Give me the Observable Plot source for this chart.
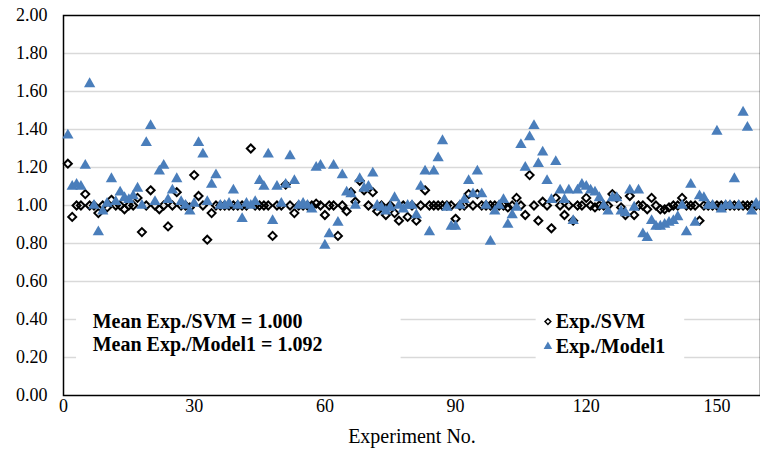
<!DOCTYPE html>
<html>
<head>
<meta charset="utf-8">
<script src="https://cdn.jsdelivr.net/npm/d3@7"></script>
<script src="https://cdn.jsdelivr.net/npm/@observablehq/plot@0.6"></script>
<style>
  html, body { margin: 0; padding: 0; background: #fff; }
  #chart svg { display: block; }
  .tick-lbl text { font-family: 'Liberation Serif', 'Times New Roman', serif !important; font-size: 18px !important; }
  .axis-title text { font-family: 'Liberation Serif', 'Times New Roman', serif !important; font-size: 20px !important; }
</style>
</head>
<body>
<div id="chart"></div>
<script>
// Experiment numbers 1..160
const experiments = Array.from({length: 160}, (_, i) => i + 1);

// Exp./SVM values (open diamonds)
const svm = [
  1.22, 0.94, 1.00, 1.00, 1.06, 1.00, 1.00, 0.96, 1.00, 0.99,
  1.03, 1.00, 1.00, 0.98, 1.00, 1.00, 1.04, 0.86, 1.00, 1.08,
  1.00, 0.98, 1.00, 0.89, 1.00, 1.07, 1.00, 1.00, 0.99, 1.16,
  1.05, 1.00, 0.82, 0.96, 1.00, 1.00, 1.00, 1.00, 1.00, 1.00,
  1.00, 1.00, 1.30, 1.00, 1.00, 1.00, 1.00, 0.84, 1.00, 1.00,
  1.11, 1.00, 0.96, 1.00, 1.00, 1.00, 1.00, 1.01, 1.00, 0.95,
  1.00, 1.00, 0.84, 1.00, 0.97, 1.07, 1.02, 1.13, 1.08, 1.00,
  1.07, 0.97, 1.00, 0.95, 1.00, 0.96, 0.92, 1.00, 0.94, 1.00,
  0.92, 1.00, 1.08, 1.00, 1.00, 1.00, 1.00, 1.00, 1.00, 0.93,
  1.00, 1.00, 1.06, 1.00, 1.06, 1.00, 1.00, 1.00, 1.00, 1.00,
  1.00, 0.99, 1.00, 1.04, 1.00, 0.95, 1.16, 1.00, 0.92, 1.02,
  1.00, 0.88, 1.04, 1.00, 0.95, 1.00, 0.92, 1.00, 1.00, 1.04,
  1.00, 0.99, 1.00, 1.00, 1.00, 1.06, 1.04, 0.99, 0.95, 1.05,
  0.95, 1.00, 1.00, 0.98, 1.04, 1.00, 0.98, 0.98, 0.99, 1.00,
  1.00, 1.04, 1.00, 1.00, 1.00, 0.92, 1.00, 1.00, 1.00, 1.00,
  1.00, 1.00, 1.00, 1.00, 1.00, 1.00, 1.00, 1.00, 1.00, 1.00
];

// Exp./Model1 values (blue triangles)
const model1 = [
  1.37, 1.10, 1.11, 1.10, 1.21, 1.64, 1.00, 0.86, 0.97, 1.01,
  1.14, 1.02, 1.07, 1.04, 1.03, 1.05, 1.09, 1.00, 1.33, 1.42,
  1.02, 1.18, 1.21, 1.03, 1.08, 1.14, 1.02, 1.00, 0.97, 1.01,
  1.33, 1.27, 1.02, 1.11, 1.16, 1.00, 1.00, 1.01, 1.08, 1.00,
  0.93, 1.01, 1.00, 1.02, 1.13, 1.10, 1.27, 0.92, 1.10, 1.01,
  1.11, 1.26, 1.13, 1.00, 1.01, 1.00, 0.98, 1.20, 1.21, 0.79,
  0.85, 1.21, 0.91, 1.16, 1.07, 1.06, 1.00, 1.14, 1.09, 1.10,
  1.17, 1.00, 0.99, 0.97, 0.99, 1.04, 1.00, 0.98, 1.00, 1.00,
  0.95, 1.10, 1.18, 0.86, 1.18, 1.25, 1.34, 0.99, 0.89, 0.89,
  1.00, 1.03, 1.13, 1.06, 1.18, 1.06, 1.00, 0.81, 0.97, 1.00,
  1.03, 0.90, 0.95, 0.99, 1.32, 1.20, 1.36, 1.42, 1.22, 1.28,
  1.13, 1.03, 1.23, 1.08, 1.03, 1.08, 0.92, 1.08, 1.11, 1.10,
  1.08, 1.07, 1.04, 1.00, 0.97, 1.04, 1.04, 0.97, 0.96, 1.08,
  0.99, 1.08, 0.85, 0.83, 0.92, 0.89, 0.89, 0.90, 0.91, 0.92,
  0.94, 1.00, 0.86, 1.11, 0.91, 1.05, 1.04, 1.00, 1.00, 1.39,
  0.98, 1.00, 1.00, 1.14, 1.00, 1.49, 1.41, 0.97, 1.01, 1.00
];

const xTicks = [0, 30, 60, 90, 120, 150];
const yTicks = [0, 0.2, 0.4, 0.6, 0.8, 1.0, 1.2, 1.4, 1.6, 1.8, 2.0];
const gridTicks = [0.2, 0.4, 0.6, 0.8, 1.0, 1.2, 1.4, 1.6, 1.8];

const xLabel = "Experiment No.";
const seriesNames = ["Exp./SVM", "Exp./Model1"];
const meanLabels = ["Mean Exp./SVM = 1.000", "Mean Exp./Model1 = 1.092"];

// annotation / legend placement (data units)
const noteX = 6.7, noteY = [0.389, 0.268];
const noteBox = {x1: 3, x2: 77.5, y1: 0.12, y2: 0.47};
const legendBox = {x1: 108.5, x2: 142.6, y1: 0.12, y2: 0.47};
const legendSymX = 111.2, legendTextX = 113.0, legendY = [0.389, 0.258];

const dataSVM = experiments.map((e, i) => ({e, v: svm[i]}));
const dataM1 = experiments.map((e, i) => ({e, v: model1[i]}));

const blue = "#4a7ebb";
const font = "Liberation Serif";
const fmt = d3.format(".2f");

const chart = Plot.plot({
  width: 760,
  height: 459,
  marginLeft: 63,
  marginTop: 15,
  marginBottom: 64,
  marginRight: 0,
  x: {domain: [0, 160], axis: null},
  y: {domain: [0, 2], axis: null},
  marks: [
    Plot.ruleY(gridTicks, {stroke: "#d9d9d9", strokeWidth: 1.6}),
    Plot.rect([noteBox, legendBox], {x1: "x1", x2: "x2", y1: "y1", y2: "y2", fill: "white"}),
    Plot.frame({stroke: "black", strokeWidth: 1.5}),
    Plot.text(yTicks, {y: d => d, frameAnchor: "left", dx: -16, textAnchor: "end", text: d => fmt(d), fontSize: 18, fontFamily: font, fill: "black", className: "tick-lbl"}),
    Plot.text(xTicks, {x: d => d, frameAnchor: "bottom", dy: 16, text: d => String(d), fontSize: 18, fontFamily: font, fill: "black", className: "tick-lbl"}),
    Plot.text([xLabel], {frameAnchor: "bottom", dy: 47, text: d => d, fontSize: 20, fontFamily: font, fill: "black", className: "axis-title"}),
    Plot.dot(dataSVM, {x: "e", y: "v", symbol: "diamond2", r: 3.6, stroke: "black", strokeWidth: 2, fill: "none"}),
    Plot.dot(dataM1, {x: "e", y: "v", symbol: "triangle", r: 4.2, fill: blue, stroke: "none"}),
    Plot.text(meanLabels, {x: noteX, y: (d, i) => noteY[i], text: d => d, textAnchor: "start", fontWeight: "bold", fontSize: 20, fontFamily: font, fill: "black"}),
    Plot.dot([0], {x: legendSymX, y: legendY[0], symbol: "diamond2", r: 2.6, stroke: "black", strokeWidth: 1.5}),
    Plot.dot([1], {x: legendSymX, y: legendY[1], symbol: "triangle", r: 3.2, fill: blue}),
    Plot.text(seriesNames, {x: legendTextX, y: (d, i) => legendY[i], text: d => d, textAnchor: "start", fontWeight: "bold", fontSize: 20, fontFamily: font, fill: "black"})
  ]
});
document.getElementById("chart").appendChild(chart);
</script>
</body>
</html>
